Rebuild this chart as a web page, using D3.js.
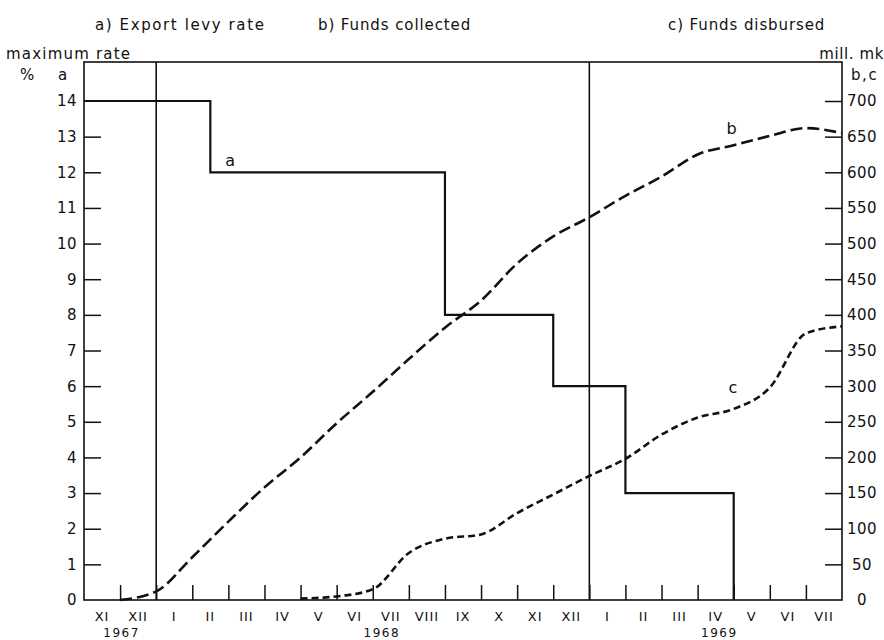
<!DOCTYPE html>
<html>
<head>
<meta charset="utf-8">
<script src="https://cdn.jsdelivr.net/npm/d3@7/dist/d3.min.js"></script>
<style>
    body { margin: 0; background: #fff; }
    text { font-family: "DejaVu Sans", sans-serif; fill: #111; }
</style>
</head>
<body>
<div id="chart"></div>
<script>
// months from XI 1967 to VII 1969, index 0 = start of XI 1967
const months = ["XI","XII","I","II","III","IV","V","VI","VII","VIII","IX","X","XI","XII","I","II","III","IV","V","VI","VII"]
const yearLabels = ["1967", "1968", "1969"]
const yearAt = [1.04, 8.25, 17.6]

// a) export levy rate, % (step changes)
const levyMonth = [0, 3.5, 10, 13, 15, 18]
const levyRate = [14, 12, 8, 6, 3, 0]

// b) funds collected, mill. mk (month boundaries)
const collectedMonth = [1,2,3,4,5,6,7,8,9,10,11,12,13,14,15,16,17,18,19,20,21]
const collected = [0, 12, 60, 110, 158, 200, 248, 292, 338, 382, 420, 472, 510, 537, 567, 594, 625, 638, 651, 662, 655]

// c) funds disbursed, mill. mk
const disbursedMonth = [6,7,8,9,10,11,12,13,14,15,16,17,18,19,20,21]
const disbursed = [2, 5, 15, 66, 86, 92, 122, 148, 174, 198, 232, 256, 268, 298, 374, 384]

const rateTicks = d3.range(0, 15)
const fundTicks = d3.range(0, 750, 50)

const width = 884, height = 640
const plotLeft = 84, plotRight = 842, plotTop = 62, plotBottom = 600

const svg = d3.select("#chart").append("svg")
    .attr("width", width)
    .attr("height", height)

const xScale = d3.scaleLinear()
    .domain([0, months.length])
    .range([plotLeft, plotRight])

const yRate = d3.scaleLinear()
    .domain([0, 14])
    .range([plotBottom, 101])

const yFunds = d3.scaleLinear()
    .domain([0, 700])
    .range([plotBottom, 101])

// frame
svg.append("rect")
    .attr("x", plotLeft)
    .attr("y", plotTop)
    .attr("width", plotRight - plotLeft)
    .attr("height", plotBottom - plotTop)
    .attr("fill", "none")
    .attr("stroke", "#111")
    .attr("stroke-width", 1.6)

// year separators at each "I"
const yearStarts = months.map((m, i) => m === "I" ? i : null).filter(d => d !== null)
svg.selectAll(".year-line")
    .data(yearStarts)
    .join("line")
    .attr("class", "year-line")
    .attr("x1", d => xScale(d))
    .attr("x2", d => xScale(d))
    .attr("y1", plotTop)
    .attr("y2", plotBottom)
    .attr("stroke", "#111")
    .attr("stroke-width", 1.6)

// left axis, ticks inside
const yAxisLeft = d3.axisRight(yRate)
    .tickValues(rateTicks.filter(d => d > 0 && d < 14))
    .tickSize(17)
    .tickFormat("")
const leftG = svg.append("g")
    .attr("transform", `translate(${plotLeft},0)`)
    .call(yAxisLeft)
leftG.select(".domain").remove()
leftG.selectAll(".tick line").attr("stroke", "#111").attr("stroke-width", 1.5)

svg.selectAll(".rate-label")
    .data(rateTicks)
    .join("text")
    .attr("class", "rate-label")
    .attr("x", 77)
    .attr("y", d => yRate(d))
    .attr("dy", "0.36em")
    .attr("text-anchor", "end")
    .style("font-size", "15px")
    .style("letter-spacing", "0.5px")
    .text(d => d)

// right axis, ticks inside
const yAxisRight = d3.axisLeft(yFunds)
    .tickValues(fundTicks.filter(d => d > 0))
    .tickSize(17)
    .tickFormat("")
const rightG = svg.append("g")
    .attr("transform", `translate(${plotRight},0)`)
    .call(yAxisRight)
rightG.select(".domain").remove()
rightG.selectAll(".tick line").attr("stroke", "#111").attr("stroke-width", 1.5)

svg.selectAll(".fund-label")
    .data(fundTicks)
    .join("text")
    .attr("class", "fund-label")
    .attr("x", 862)
    .attr("y", d => yFunds(d))
    .attr("dy", "0.36em")
    .attr("text-anchor", "middle")
    .style("font-size", "15px")
    .style("letter-spacing", "0.5px")
    .text(d => d)

// bottom ticks at month boundaries, pointing up
const xAxis = d3.axisTop(xScale)
    .tickValues(d3.range(1, months.length))
    .tickSize(15)
    .tickFormat("")
const xG = svg.append("g")
    .attr("transform", `translate(0,${plotBottom})`)
    .call(xAxis)
xG.select(".domain").remove()
xG.selectAll(".tick line").attr("stroke", "#111").attr("stroke-width", 1.5)

svg.selectAll(".month-label")
    .data(months)
    .join("text")
    .attr("class", "month-label")
    .attr("x", (d, i) => xScale(i + 0.5))
    .attr("y", 621)
    .attr("text-anchor", "middle")
    .style("font-size", "13px")
    .style("letter-spacing", "1px")
    .text(d => d)

svg.selectAll(".year-label")
    .data(yearLabels)
    .join("text")
    .attr("class", "year-label")
    .attr("x", (d, i) => xScale(yearAt[i]))
    .attr("y", 637)
    .attr("text-anchor", "middle")
    .style("font-size", "12px")
    .style("letter-spacing", "1.5px")
    .text(d => d)

// series
const levyLine = d3.line()
    .curve(d3.curveStepAfter)
    .x(d => xScale(d[0]))
    .y(d => yRate(d[1]))

svg.append("path")
    .datum(levyMonth.map((m, i) => [m, levyRate[i]]))
    .attr("d", levyLine)
    .attr("fill", "none")
    .attr("stroke", "#111")
    .attr("stroke-width", 2.2)

const fundLine = d3.line()
    .curve(d3.curveMonotoneX)
    .x(d => xScale(d[0]))
    .y(d => yFunds(d[1]))

svg.append("path")
    .datum(collectedMonth.map((m, i) => [m, collected[i]]))
    .attr("d", fundLine)
    .attr("fill", "none")
    .attr("stroke", "#111")
    .attr("stroke-width", 2.6)
    .attr("stroke-dasharray", "12,5")

svg.append("path")
    .datum(disbursedMonth.map((m, i) => [m, disbursed[i]]))
    .attr("d", fundLine)
    .attr("fill", "none")
    .attr("stroke", "#111")
    .attr("stroke-width", 2.6)
    .attr("stroke-dasharray", "7,4")

// series letters
svg.append("text")
    .attr("x", xScale(4.05)).attr("y", yRate(12.35))
    .attr("dy", "0.36em").attr("text-anchor", "middle")
    .style("font-size", "16px").text("a")
svg.append("text")
    .attr("x", xScale(17.94)).attr("y", yFunds(662))
    .attr("dy", "0.36em").attr("text-anchor", "middle")
    .style("font-size", "16px").text("b")
svg.append("text")
    .attr("x", xScale(17.98)).attr("y", yFunds(299))
    .attr("dy", "0.36em").attr("text-anchor", "middle")
    .style("font-size", "16px").text("c")

// titles and axis captions
const caption = (x, y, t, anchor, spacing) => svg.append("text")
    .attr("x", x).attr("y", y)
    .attr("text-anchor", anchor || "start")
    .style("font-size", "15px")
    .style("letter-spacing", (spacing || 1.6) + "px")
    .text(t)

caption(95, 30, "a) Export levy rate")
caption(318, 30, "b) Funds collected", "start", 0.9)
caption(668, 30, "c) Funds disbursed", "start", 0.9)
caption(6, 59, "maximum rate", "start", 1.2)
caption(20, 80, "%")
caption(58, 80, "a")
caption(884, 59, "mill. mk", "end", 0.6)
caption(851, 80, "b,c")
</script>
</body>
</html>
